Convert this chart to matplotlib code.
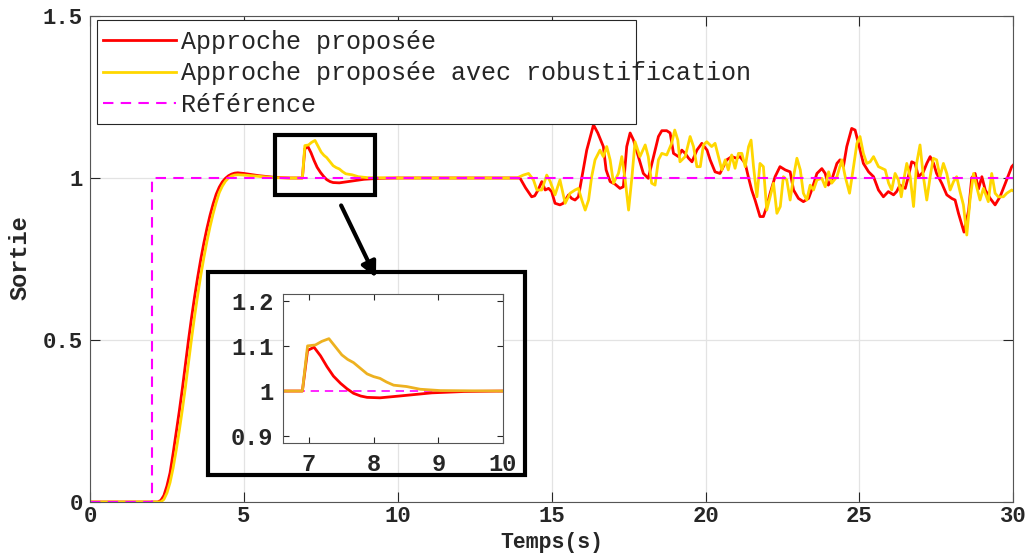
import numpy as np
import matplotlib
matplotlib.use("Agg")
import matplotlib.pyplot as plt
from matplotlib.patches import Rectangle

plt.rcParams['font.family'] = ['Liberation Mono', 'DejaVu Sans Mono']

# reference
t_ref = [0, 2, 2, 30]
y_ref = [0, 0, 1, 1]

# approche proposee (rouge)
t_red = [0, 2.0, 2.2, 2.3, 2.4, 2.5, 2.6, 2.7, 2.8, 2.9, 3.0, 3.1, 3.2, 3.3, 3.4, 3.5, 3.6, 3.7, 3.8, 3.9,
         4.0, 4.1, 4.2, 4.3, 4.4, 4.5, 4.6, 4.7, 4.8, 5.0, 5.5, 6.0, 6.5, 6.9,
         6.98, 7.08, 7.18, 7.28, 7.38, 7.49, 7.59, 7.69, 7.8, 7.9, 8.1, 8.4, 8.9, 9.4, 10.0, 13.97,
         14.15, 14.35, 14.45, 14.56, 14.68, 14.79, 14.9, 15.0, 15.11, 15.27, 15.38, 15.55, 15.65, 15.76, 15.87,
         16.14, 16.36, 16.5, 16.68, 16.77, 16.9, 17.06, 17.22, 17.33, 17.44, 17.55, 17.66, 17.82, 17.98,
         18.14, 18.31, 18.47, 18.58, 18.74, 18.85, 18.96, 19.12, 19.23, 19.34, 19.45, 19.56, 19.72, 19.88,
         20.05, 20.15, 20.31, 20.47, 20.58, 20.69, 20.85, 21.01, 21.12, 21.29, 21.39, 21.5, 21.61, 21.77,
         21.88, 21.99, 22.1, 22.26, 22.42, 22.59, 22.75, 22.86, 23.02, 23.18, 23.35, 23.45, 23.62, 23.78,
         23.89, 23.99, 24.1, 24.27, 24.37, 24.48, 24.59, 24.75, 24.86, 24.97, 25.13, 25.3, 25.46, 25.62,
         25.78, 25.94, 26.11, 26.21, 26.32, 26.49, 26.59, 26.7, 26.81, 26.92, 27.08, 27.19, 27.3, 27.41,
         27.51, 27.68, 27.84, 28.0, 28.11, 28.22, 28.4, 28.55, 28.65, 28.76, 28.87, 28.98, 29.09, 29.25,
         29.41, 29.57, 29.74, 29.95, 30.0]
y_red = [0, 0, 0, 0.005, 0.02, 0.05, 0.09, 0.15, 0.215, 0.28, 0.35, 0.425, 0.5, 0.57, 0.635, 0.695, 0.75,
         0.80, 0.845, 0.885, 0.92, 0.95, 0.972, 0.988, 0.999, 1.007, 1.012, 1.015, 1.016, 1.014, 1.007, 1.002,
         1.0, 1.0,
         1.09, 1.097, 1.078, 1.054, 1.033, 1.017, 1.005, 0.995, 0.989, 0.986, 0.985, 0.989, 0.996, 0.999, 1.0, 1.0,
         0.97, 0.942, 0.945, 0.963, 0.989, 0.963, 0.968, 0.958, 0.922, 0.917, 0.922, 0.948, 0.937, 0.932, 0.942,
         1.086, 1.164, 1.139, 1.097, 1.025, 0.989, 0.981, 0.968, 0.973, 1.097, 1.139, 1.117, 1.066, 1.014,
         0.999, 1.066, 1.128, 1.146, 1.146, 1.139, 1.076, 1.066, 1.086, 1.076, 1.061, 1.050, 1.086, 1.107,
         1.086, 1.056, 1.019, 1.014, 1.035, 1.056, 1.066, 1.061, 1.066, 1.045, 1.004, 0.963, 0.932, 0.881,
         0.881, 0.912, 0.953, 1.004, 1.035, 1.025, 1.019, 0.963, 0.937, 0.927, 0.937, 0.963, 1.014, 1.029,
         1.014, 0.978, 0.994, 1.045, 1.056, 1.035, 1.097, 1.153, 1.148, 1.107, 1.045, 1.019, 1.004, 0.963,
         0.942, 0.958, 0.948, 0.958, 0.978, 0.968, 1.004, 1.050, 1.045, 1.004, 1.019, 1.045, 1.066, 1.045,
         1.014, 0.983, 0.948, 0.937, 0.932, 0.891, 0.833, 0.9, 1.0, 1.014, 0.966, 1.004, 0.963, 0.937,
         0.917, 0.942, 0.983, 1.035, 1.04]

# approche proposee avec robustification (jaune)
t_yel = [0, 2.0, 2.3, 2.4, 2.5, 2.6, 2.7, 2.8, 2.9, 3.0, 3.1, 3.2, 3.3, 3.4, 3.5, 3.6, 3.7, 3.8, 3.9,
         4.0, 4.1, 4.2, 4.3, 4.4, 4.5, 4.6, 4.7, 4.8, 5.0, 5.5, 6.0, 6.5, 6.9,
         6.98, 7.1, 7.2, 7.31, 7.41, 7.51, 7.6, 7.69, 7.8, 7.9, 8.0, 8.1, 8.2, 8.31, 8.51, 8.72, 9.03, 10.0, 13.87,
         14.08, 14.25, 14.41, 14.52, 14.68, 14.84, 14.95, 15.11, 15.27, 15.44, 15.6, 15.76, 15.87, 15.98, 16.09,
         16.2, 16.3, 16.41, 16.57, 16.68, 16.79, 16.9, 17.01, 17.17, 17.28, 17.39, 17.5, 17.61, 17.71, 17.87,
         18.04, 18.14, 18.25, 18.36, 18.47, 18.58, 18.74, 18.9, 19.0, 19.1, 19.17, 19.34, 19.5, 19.61, 19.72,
         19.83, 19.93, 20.04, 20.2, 20.31, 20.42, 20.53, 20.64, 20.74, 20.85, 20.96, 21.07, 21.18, 21.29, 21.4,
         21.48, 21.56, 21.67, 21.77, 21.88, 21.99, 22.1, 22.21, 22.32, 22.43, 22.53, 22.64, 22.75, 22.86, 22.97,
         23.08, 23.18, 23.29, 23.4, 23.51, 23.62, 23.78, 23.89, 24.0, 24.1, 24.27, 24.43, 24.54, 24.68, 24.81,
         24.92, 25.02, 25.13, 25.24, 25.35, 25.46, 25.62, 25.84, 25.95, 26.05, 26.16, 26.27, 26.36, 26.46,
         26.54, 26.65, 26.76, 26.86, 26.97, 27.08, 27.19, 27.3, 27.4, 27.51, 27.62, 27.73, 27.84, 27.95, 28.06,
         28.16, 28.27, 28.38, 28.49, 28.6, 28.71, 28.81, 28.92, 29.03, 29.19, 29.3, 29.41, 29.51, 29.68, 29.79,
         29.95, 30.0]
y_yel = [0, 0, 0, 0.008, 0.028, 0.06, 0.105, 0.16, 0.22, 0.285, 0.355, 0.43, 0.505, 0.575, 0.64, 0.70,
         0.755, 0.805, 0.85, 0.89, 0.925, 0.955, 0.975, 0.99, 1.0, 1.006, 1.009, 1.01, 1.009, 1.005, 1.001,
         1.0, 1.0,
         1.1, 1.102, 1.11, 1.116, 1.098, 1.08, 1.07, 1.063, 1.05, 1.038, 1.032, 1.028, 1.02, 1.013, 1.01, 1.004,
         1.001, 1.0, 1.0,
         1.009, 1.014, 0.994, 0.963, 0.963, 1.009, 0.99, 0.948, 0.994, 0.922, 0.953, 0.963, 0.968, 0.932, 0.901,
         0.932, 1.004, 1.056, 1.086, 1.066, 1.097, 1.056, 0.984, 1.014, 1.066, 0.994, 0.901, 1.004, 1.112, 1.066,
         1.102, 1.066, 0.984, 0.978, 1.056, 1.076, 1.071, 1.107, 1.148, 1.117, 1.050, 1.066, 1.128, 1.097, 1.035,
         1.035, 1.102, 1.112, 1.097, 1.107, 1.066, 1.025, 1.056, 1.025, 1.071, 1.030, 1.076, 1.076, 1.035, 1.097,
         1.117, 1.035, 0.942, 1.045, 1.035, 0.901, 0.942, 0.984, 0.891, 0.912, 1.004, 0.994, 0.932, 1.004, 1.061,
         1.025, 0.953, 0.932, 0.978, 0.963, 0.994, 0.999, 0.973, 1.019, 0.984, 1.004, 1.056, 1.004, 0.953, 1.035,
         1.107, 1.128, 1.076, 1.045, 1.050, 1.066, 1.035, 1.025, 0.984, 0.963, 1.014, 0.994, 0.942, 1.004,
         1.045, 1.004, 0.912, 1.045, 1.102, 1.004, 0.932, 1.004, 1.061, 1.056, 1.004, 1.045, 1.014, 0.963, 0.989,
         1.004, 0.958, 0.917, 0.824, 0.937, 1.014, 0.973, 0.932, 0.968, 0.927, 1.014, 0.953, 0.942, 0.942, 0.953,
         0.963, 0.96]

labels = ['Approche proposée', 'Approche proposée avec robustification', 'Référence']

fig = plt.figure(figsize=(10.29, 5.54), dpi=100)
ax = fig.add_axes([0.0875, 0.0939, 0.8972, 0.8772])

ax.plot(t_red, y_red, color='#ff0000', lw=2.0, label=labels[0])
ax.plot(t_yel, y_yel, color='#ffd700', lw=2.0, label=labels[1])
ax.plot(t_ref, y_ref, color='#ff00ff', lw=1.5, ls=(0, (5, 3.5)), label=labels[2])

ax.set_xlim(0, 30)
ax.set_ylim(0, 1.5)
ax.set_xticks([0, 5, 10, 15, 20, 25, 30])
ax.set_yticks([0, 0.5, 1, 1.5])
ax.set_yticklabels(['0', '0.5', '1', '1.5'])
ax.grid(True, color='#e3e3e3', lw=0.9)
ax.tick_params(direction='in', length=7, top=True, right=True, labelsize=16, colors='#262626', pad=5)
ax.tick_params(axis='x', pad=3)
for lab in ax.get_xticklabels() + ax.get_yticklabels():
    lab.set_fontweight('bold')
for s in ax.spines.values():
    s.set_color('#555555')

ax.set_xlabel('Temps(s)', fontsize=15.5, fontweight='bold', color='#262626')
ax.set_ylabel('Sortie', fontsize=17, fontweight='bold', color='#262626')
ax.xaxis.set_label_coords(0.5, -0.083)
ax.xaxis.label.set_va('center')
ax.yaxis.set_label_coords(-0.076, 0.502)
ax.yaxis.label.set_va('center')

# cadre de legende (plus etroit que le texte, comme dans l'original)
ax.add_patch(Rectangle((0.0076, 0.7778), 0.5839, 0.214, transform=ax.transAxes, fc='white',
                       ec='#262626', lw=0.8, zorder=4.5))
leg = ax.legend(loc='upper left', bbox_to_anchor=(0.006, 0.987), fontsize=18, frameon=False,
                handlelength=2.9, handletextpad=0.2, labelspacing=0.3, borderpad=0.3, borderaxespad=0)
for txt in leg.get_texts():
    txt.set_color('#262626')

# zoom box and arrow
ax.add_patch(Rectangle((6.01, 0.948), 3.25, 0.185, fill=False, ec='black', lw=3, zorder=5))
ax.annotate('', xy=(9.33, 0.685), xytext=(8.12, 0.923),
            arrowprops=dict(arrowstyle='-|>,head_length=0.9,head_width=0.45', color='black', lw=3))

# cadre de l'encart
fig.patches.append(Rectangle((0.2021, 0.1426), 0.3081, 0.3664, fill=False, ec='black', lw=3,
                             transform=fig.transFigure, figure=fig))

axi = fig.add_axes([0.275, 0.2004, 0.2138, 0.269])
axi.plot(t_red, y_red, color='#ff0000', lw=2.0)
axi.plot(t_yel, y_yel, color='#edb120', lw=2.0)
axi.plot(t_ref, y_ref, color='#ff00ff', lw=1.2, ls=(0, (5, 3.5)), zorder=1)
axi.set_xlim(6.6, 10)
axi.set_ylim(0.885, 1.215)
axi.set_xticks([7, 8, 9, 10])
axi.set_yticks([0.9, 1, 1.1, 1.2])
axi.set_yticklabels(['0.9', '1', '1.1', '1.2'])
axi.tick_params(direction='in', length=4, top=True, right=True, labelsize=17, colors='#262626', pad=7)
for lab in axi.get_xticklabels() + axi.get_yticklabels():
    lab.set_fontweight('bold')
for s in axi.spines.values():
    s.set_color('#555555')

fig.savefig('out.png', dpi=100)
